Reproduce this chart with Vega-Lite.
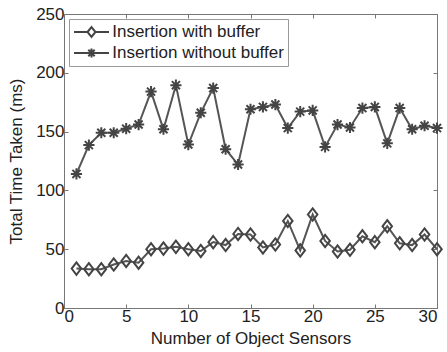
{
  "$schema": "https://vega.github.io/schema/vega-lite/v6.json",
  "width": 373,
  "height": 294,
  "autosize": "none",
  "padding": {"left": 64, "top": 14, "right": 10, "bottom": 44},
  "background": "white",
  "config": {
    "view": {"stroke": "#777", "strokeWidth": 1},
    "font": "Liberation Sans",
    "axis": {"grid": false, "labelFont": "Liberation Sans", "titleFont": "Liberation Sans", "labelFontSize": 17, "titleFontSize": 17, "titleFontWeight": "normal", "labelColor": "#222", "titleColor": "#222", "domainColor": "#777", "tickColor": "#777", "tickSize": -4, "labelPadding": 4}
  },
  "data": {"values": [
    {"n": 1, "series": "Insertion with buffer", "t": 33.5},
    {"n": 2, "series": "Insertion with buffer", "t": 33},
    {"n": 3, "series": "Insertion with buffer", "t": 33},
    {"n": 4, "series": "Insertion with buffer", "t": 37},
    {"n": 5, "series": "Insertion with buffer", "t": 40},
    {"n": 6, "series": "Insertion with buffer", "t": 38.5},
    {"n": 7, "series": "Insertion with buffer", "t": 50},
    {"n": 8, "series": "Insertion with buffer", "t": 50.5},
    {"n": 9, "series": "Insertion with buffer", "t": 52},
    {"n": 10, "series": "Insertion with buffer", "t": 50},
    {"n": 11, "series": "Insertion with buffer", "t": 48.5},
    {"n": 12, "series": "Insertion with buffer", "t": 56},
    {"n": 13, "series": "Insertion with buffer", "t": 53.5},
    {"n": 14, "series": "Insertion with buffer", "t": 63},
    {"n": 15, "series": "Insertion with buffer", "t": 62.5},
    {"n": 16, "series": "Insertion with buffer", "t": 51.5},
    {"n": 17, "series": "Insertion with buffer", "t": 54},
    {"n": 18, "series": "Insertion with buffer", "t": 74},
    {"n": 19, "series": "Insertion with buffer", "t": 49},
    {"n": 20, "series": "Insertion with buffer", "t": 79.5},
    {"n": 21, "series": "Insertion with buffer", "t": 57},
    {"n": 22, "series": "Insertion with buffer", "t": 48},
    {"n": 23, "series": "Insertion with buffer", "t": 49.5},
    {"n": 24, "series": "Insertion with buffer", "t": 61},
    {"n": 25, "series": "Insertion with buffer", "t": 56},
    {"n": 26, "series": "Insertion with buffer", "t": 69.5},
    {"n": 27, "series": "Insertion with buffer", "t": 55},
    {"n": 28, "series": "Insertion with buffer", "t": 53.5},
    {"n": 29, "series": "Insertion with buffer", "t": 62.5},
    {"n": 30, "series": "Insertion with buffer", "t": 50},
    {"n": 1, "series": "Insertion without buffer", "t": 114},
    {"n": 2, "series": "Insertion without buffer", "t": 138.5},
    {"n": 3, "series": "Insertion without buffer", "t": 149},
    {"n": 4, "series": "Insertion without buffer", "t": 149},
    {"n": 5, "series": "Insertion without buffer", "t": 152.5},
    {"n": 6, "series": "Insertion without buffer", "t": 156},
    {"n": 7, "series": "Insertion without buffer", "t": 184},
    {"n": 8, "series": "Insertion without buffer", "t": 152},
    {"n": 9, "series": "Insertion without buffer", "t": 189.5},
    {"n": 10, "series": "Insertion without buffer", "t": 139},
    {"n": 11, "series": "Insertion without buffer", "t": 166},
    {"n": 12, "series": "Insertion without buffer", "t": 187},
    {"n": 13, "series": "Insertion without buffer", "t": 135},
    {"n": 14, "series": "Insertion without buffer", "t": 122},
    {"n": 15, "series": "Insertion without buffer", "t": 169},
    {"n": 16, "series": "Insertion without buffer", "t": 171},
    {"n": 17, "series": "Insertion without buffer", "t": 173},
    {"n": 18, "series": "Insertion without buffer", "t": 153},
    {"n": 19, "series": "Insertion without buffer", "t": 167},
    {"n": 20, "series": "Insertion without buffer", "t": 168},
    {"n": 21, "series": "Insertion without buffer", "t": 137},
    {"n": 22, "series": "Insertion without buffer", "t": 156},
    {"n": 23, "series": "Insertion without buffer", "t": 153.5},
    {"n": 24, "series": "Insertion without buffer", "t": 170},
    {"n": 25, "series": "Insertion without buffer", "t": 171},
    {"n": 26, "series": "Insertion without buffer", "t": 140},
    {"n": 27, "series": "Insertion without buffer", "t": 170},
    {"n": 28, "series": "Insertion without buffer", "t": 152},
    {"n": 29, "series": "Insertion without buffer", "t": 155},
    {"n": 30, "series": "Insertion without buffer", "t": 153}
  ]},
  "layer": [
    {
      "mark": {"type": "line", "color": "#555", "strokeWidth": 2},
      "encoding": {
        "x": {"field": "n", "type": "quantitative", "scale": {"domain": [0, 30], "nice": false}, "axis": {"values": [0, 5, 10, 15, 20, 25, 30], "title": "Number of Object Sensors", "titlePadding": 6}},
        "y": {"field": "t", "type": "quantitative", "scale": {"domain": [0, 250], "nice": false}, "axis": {"values": [0, 50, 100, 150, 200, 250], "title": "Total Time Taken (ms)", "titlePadding": 10}},
        "detail": {"field": "series"}
      }
    },
    {
      "mark": {"type": "point", "filled": false, "stroke": "#444", "strokeWidth": 2, "size": 125, "opacity": 1},
      "encoding": {
        "x": {"field": "n", "type": "quantitative", "scale": {"domain": [0, 30], "nice": false}, "axis": {"orient": "top", "values": [0, 5, 10, 15, 20, 25, 30], "labels": false, "title": null, "domain": false}},
        "y": {"field": "t", "type": "quantitative", "scale": {"domain": [0, 250], "nice": false}, "axis": {"orient": "right", "values": [0, 50, 100, 150, 200, 250], "labels": false, "title": null, "domain": false}},
        "shape": {"field": "series", "type": "nominal", "legend": null, "scale": {"domain": ["Insertion with buffer", "Insertion without buffer"], "range": ["M0,-1.1L0.85,0L0,1.1L-0.85,0Z", "M0,-1V1M-1,0H1M-0.72,-0.72L0.72,0.72M-0.72,0.72L0.72,-0.72"]}}
      }
    },
    {
      "mark": {"type": "point", "filled": false, "stroke": "#444", "strokeWidth": 2, "opacity": 0},
      "encoding": {
        "x": {"field": "n", "type": "quantitative", "axis": null},
        "y": {"field": "t", "type": "quantitative", "axis": null},
        "shape": {"field": "series", "type": "nominal", "title": null,
          "scale": {"domain": ["Insertion with buffer", "Insertion without buffer"], "range": ["M-2.19,0H-0.5M0.5,0H2.19M-0.5,0L0,-0.62L0.5,0L0,0.62Z", "M-2.19,0H2.19M0,-0.55V0.55M-0.4,-0.4L0.4,0.4M-0.4,0.4L0.4,-0.4"]},
          "legend": {"orient": "top-left", "offset": 5, "symbolSize": 256, "symbolOffset": 9.5, "symbolOpacity": 1, "symbolStrokeColor": "#444", "symbolStrokeWidth": 2, "symbolFillColor": "transparent", "labelFontSize": 17, "labelFont": "Liberation Sans", "labelColor": "#222", "labelOffset": 11.7, "rowPadding": 3, "strokeColor": "#999", "fillColor": "white", "padding": 4, "labelLimit": 300}}
      }
    }
  ],
  "resolve": {"scale": {"shape": "independent"}, "axis": {"x": "independent", "y": "independent"}}
}
